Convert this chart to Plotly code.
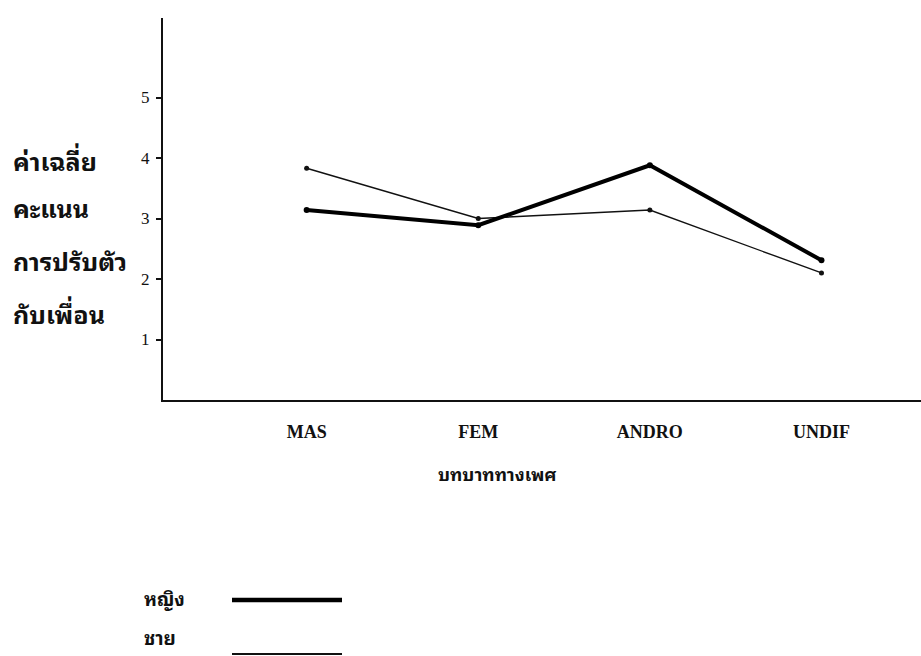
import plotly.graph_objects as go

categories = ["MAS", "FEM", "ANDRO", "UNDIF"]
female = [3.14, 2.89, 3.88, 2.31]   # หญิง
male = [3.83, 3.00, 3.14, 2.10]     # ชาย
y_ticks = [1, 2, 3, 4, 5]
y_title_lines = ["ค่าเฉลี่ย", "คะแนน", "การปรับตัว", "กับเพื่อน"]
x_title = "บทบาททางเพศ"
legend_labels = ["หญิง", "ชาย"]

W, H = 921, 656
L, R, T, B = 163, 0, 18, 256
PW, PH = W - L - R, H - T - B

def px(x):
    return (x - L) / PW

def py(y):
    return (H - B - y) / PH

THAI = "Noto Sans Thai Looped, Noto Sans Thai, Noto Sans, sans-serif"

fig = go.Figure()
fig.add_trace(go.Scatter(
    x=categories, y=male, mode="lines+markers", name=legend_labels[1],
    line=dict(color="#111111", width=1.4),
    marker=dict(color="#111111", size=5),
))
fig.add_trace(go.Scatter(
    x=categories, y=female, mode="lines+markers", name=legend_labels[0],
    line=dict(color="#000000", width=4),
    marker=dict(color="#000000", size=6),
))

annotations = []
ys = [160, 207, 260, 313]
for txt, yy in zip(y_title_lines, ys):
    annotations.append(dict(
        text="<b>" + txt + "</b>", xref="paper", yref="paper", x=px(11), y=py(yy),
        xanchor="left", yanchor="middle", showarrow=False,
        font=dict(family=THAI, size=25, color="#111111"),
    ))
annotations.append(dict(
    text="<b>" + x_title + "</b>", xref="paper", yref="paper", x=px(497), y=py(473),
    xanchor="center", yanchor="middle", showarrow=False,
    font=dict(family=THAI, size=18, color="#111111"),
))
leg_y = [597, 636]
for txt, yy in zip(legend_labels, leg_y):
    annotations.append(dict(
        text="<b>" + txt + "</b>", xref="paper", yref="paper", x=px(142), y=py(yy),
        xanchor="left", yanchor="middle", showarrow=False,
        font=dict(family=THAI, size=19, color="#111111"),
    ))

shapes = [
    dict(type="line", xref="paper", yref="paper",
         x0=px(232), x1=px(342), y0=py(600), y1=py(600),
         line=dict(color="#000000", width=4.5)),
    dict(type="line", xref="paper", yref="paper",
         x0=px(232), x1=px(342), y0=py(654), y1=py(654),
         line=dict(color="#111111", width=2)),
]

fig.update_layout(
    width=W, height=H,
    margin=dict(l=L, r=R, t=T, b=B),
    paper_bgcolor="white", plot_bgcolor="white",
    showlegend=False,
    annotations=annotations,
    shapes=shapes,
    xaxis=dict(
        type="category", range=[-0.837, 3.58],
        showgrid=False, zeroline=False,
        showline=True, linecolor="#111111", linewidth=2,
        ticks="", ticklabelstandoff=14,
        tickfont=dict(family="Liberation Serif", size=18, color="#111111"),
        tickprefix="<b>", ticksuffix="</b>",
    ),
    yaxis=dict(
        range=[0, (H - B - T) / 60.5],
        tickvals=y_ticks, showgrid=False, zeroline=False,
        showline=True, linecolor="#111111", linewidth=2,
        ticks="outside", ticklen=5, tickwidth=1.5, tickcolor="#111111",
        ticklabelstandoff=3,
        tickfont=dict(family="Liberation Serif", size=17, color="#111111"),
    ),
)

fig.write_html(
    "out.html",
    config={"displayModeBar": False},
    post_script="document.body.style.margin='0';"
                "document.body.style.overflow='hidden';"
                "document.documentElement.style.overflow='hidden';",
)
